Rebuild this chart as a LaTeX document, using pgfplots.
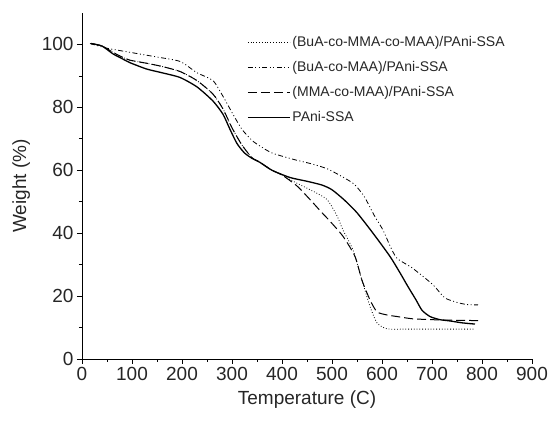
\documentclass[border=0pt]{standalone}
\usepackage{fontspec}
\setmainfont{Liberation Sans}
\usepackage{pgfplots}
\pgfplotsset{compat=1.18}

\begin{document}
\begin{tikzpicture}
\begin{axis}[
  name=ax,
  width=450pt, height=346pt, scale only axis,
  xmin=0, xmax=900, ymin=0, ymax=110,
  axis x line*=bottom, axis y line*=left,
  xtick={0,100,...,900}, ytick={0,20,...,100},
  minor x tick num=1, minor y tick num=1,
  tick align=outside,
  major tick length=5pt, minor tick length=3pt,
  every tick/.style={black, line width=0.8pt},
  axis line style={line width=0.9pt},
  /pgf/number format/assume math mode=true,
  ticklabel style={font=\fontsize{19}{22}\selectfont, text=black!85},
  xlabel={Temperature (C)}, ylabel={Weight (\%)},
  every axis x label/.style={at={(axis description cs:0.5,-0.118)}, anchor=center,
    font=\fontsize{19}{22}\selectfont, text=black!85},
  every axis y label/.style={at={(axis description cs:-0.135,0.5)}, rotate=90, anchor=center,
    font=\fontsize{19}{22}\selectfont, text=black!85},
  legend style={at={(0.36,0.945)}, anchor=north west, draw=none, fill=none,
    font=\fontsize{14}{16}\selectfont, row sep=9.5pt, text=black!85},
  legend cell align=left,
  legend image code/.code={\draw[#1] (0pt,0pt) -- (42pt,0pt);},
]
\addplot[black, line width=0.8pt, dotted, smooth, tension=0.4] coordinates {
 (18,100.3) (40,99.5) (62,97.5) (80,96) (96,95) (130,94) (160,93) (196,91.4)
 (230,88.5) (262,84.2) (282,79.5) (300,73.5) (320,68) (340,64) (356,62.5)
 (380,60) (400,58.5) (422,56.5) (460,53.5) (490,50.7) (510,45.5) (522,41)
 (542,34.7) (560,25) (576,16.7) (590,11.5) (610,9.6) (650,9.5) (786,9.5)
};
\addlegendentry{(BuA-co-MMA-co-MAA)/PAni-SSA}
\addplot[black, line width=0.8pt, dash pattern=on 5pt off 2.5pt on 1pt off 2.5pt on 1pt off 2.5pt, smooth, tension=0.4] coordinates {
 (16,100.3) (50,98.8) (96,97.5) (150,96) (196,94.6) (230,91) (262,88.5)
 (282,83.5) (302,77.8) (320,73) (340,69.5) (356,67.7) (380,65.5) (422,63.5)
 (460,62) (490,60.5) (520,58) (545,55.5) (565,51.5) (585,45.5) (602,41)
 (616,36) (630,32) (660,29) (702,23.6) (725,19.5) (750,18) (770,17.3) (792,17.2)
};
\addlegendentry{(BuA-co-MAA)/PAni-SSA}
\addplot[black, line width=1pt, dash pattern=on 9pt off 4pt, smooth, tension=0.4] coordinates {
 (18,100.3) (40,99.5) (62,97.5) (80,96) (96,95) (130,94) (160,93) (196,91.4)
 (230,88.5) (262,84.2) (282,79.5) (300,73.5) (320,68) (340,64) (356,62.5)
 (380,60) (400,58.5) (430,55) (456,50.7) (480,46.5) (496,43.8) (522,39)
 (546,32.6) (560,25) (576,18.8) (590,15) (610,14) (630,13.5) (660,12.8)
 (700,12.5) (750,12.3) (800,12.2)
};
\addlegendentry{(MMA-co-MAA)/PAni-SSA}
\addplot[black, line width=1.3pt, smooth, tension=0.4] coordinates {
 (18,100.3) (40,99.5) (62,97) (80,95.5) (96,94.2) (129,92.2) (160,91)
 (196,89.5) (230,86.5) (262,82) (282,77.8) (296,73) (310,68.5) (325,65.5)
 (340,63.8) (356,62.5) (380,60) (416,57.7) (450,56.5) (480,55.3) (500,53.8)
 (525,50.5) (550,46.5) (582,40) (616,32.6) (636,27.4) (652,23) (668,18.8)
 (680,15.5) (696,13.5) (716,12.5) (736,12.1) (760,11.5) (786,11.1)
};
\addlegendentry{PAni-SSA}
\end{axis}
\pgfresetboundingbox
\path[use as bounding box] ([shift={(-82pt,-64pt)}]ax.south west) rectangle ([shift={(26pt,13pt)}]ax.north east);
\end{tikzpicture}
\end{document}
